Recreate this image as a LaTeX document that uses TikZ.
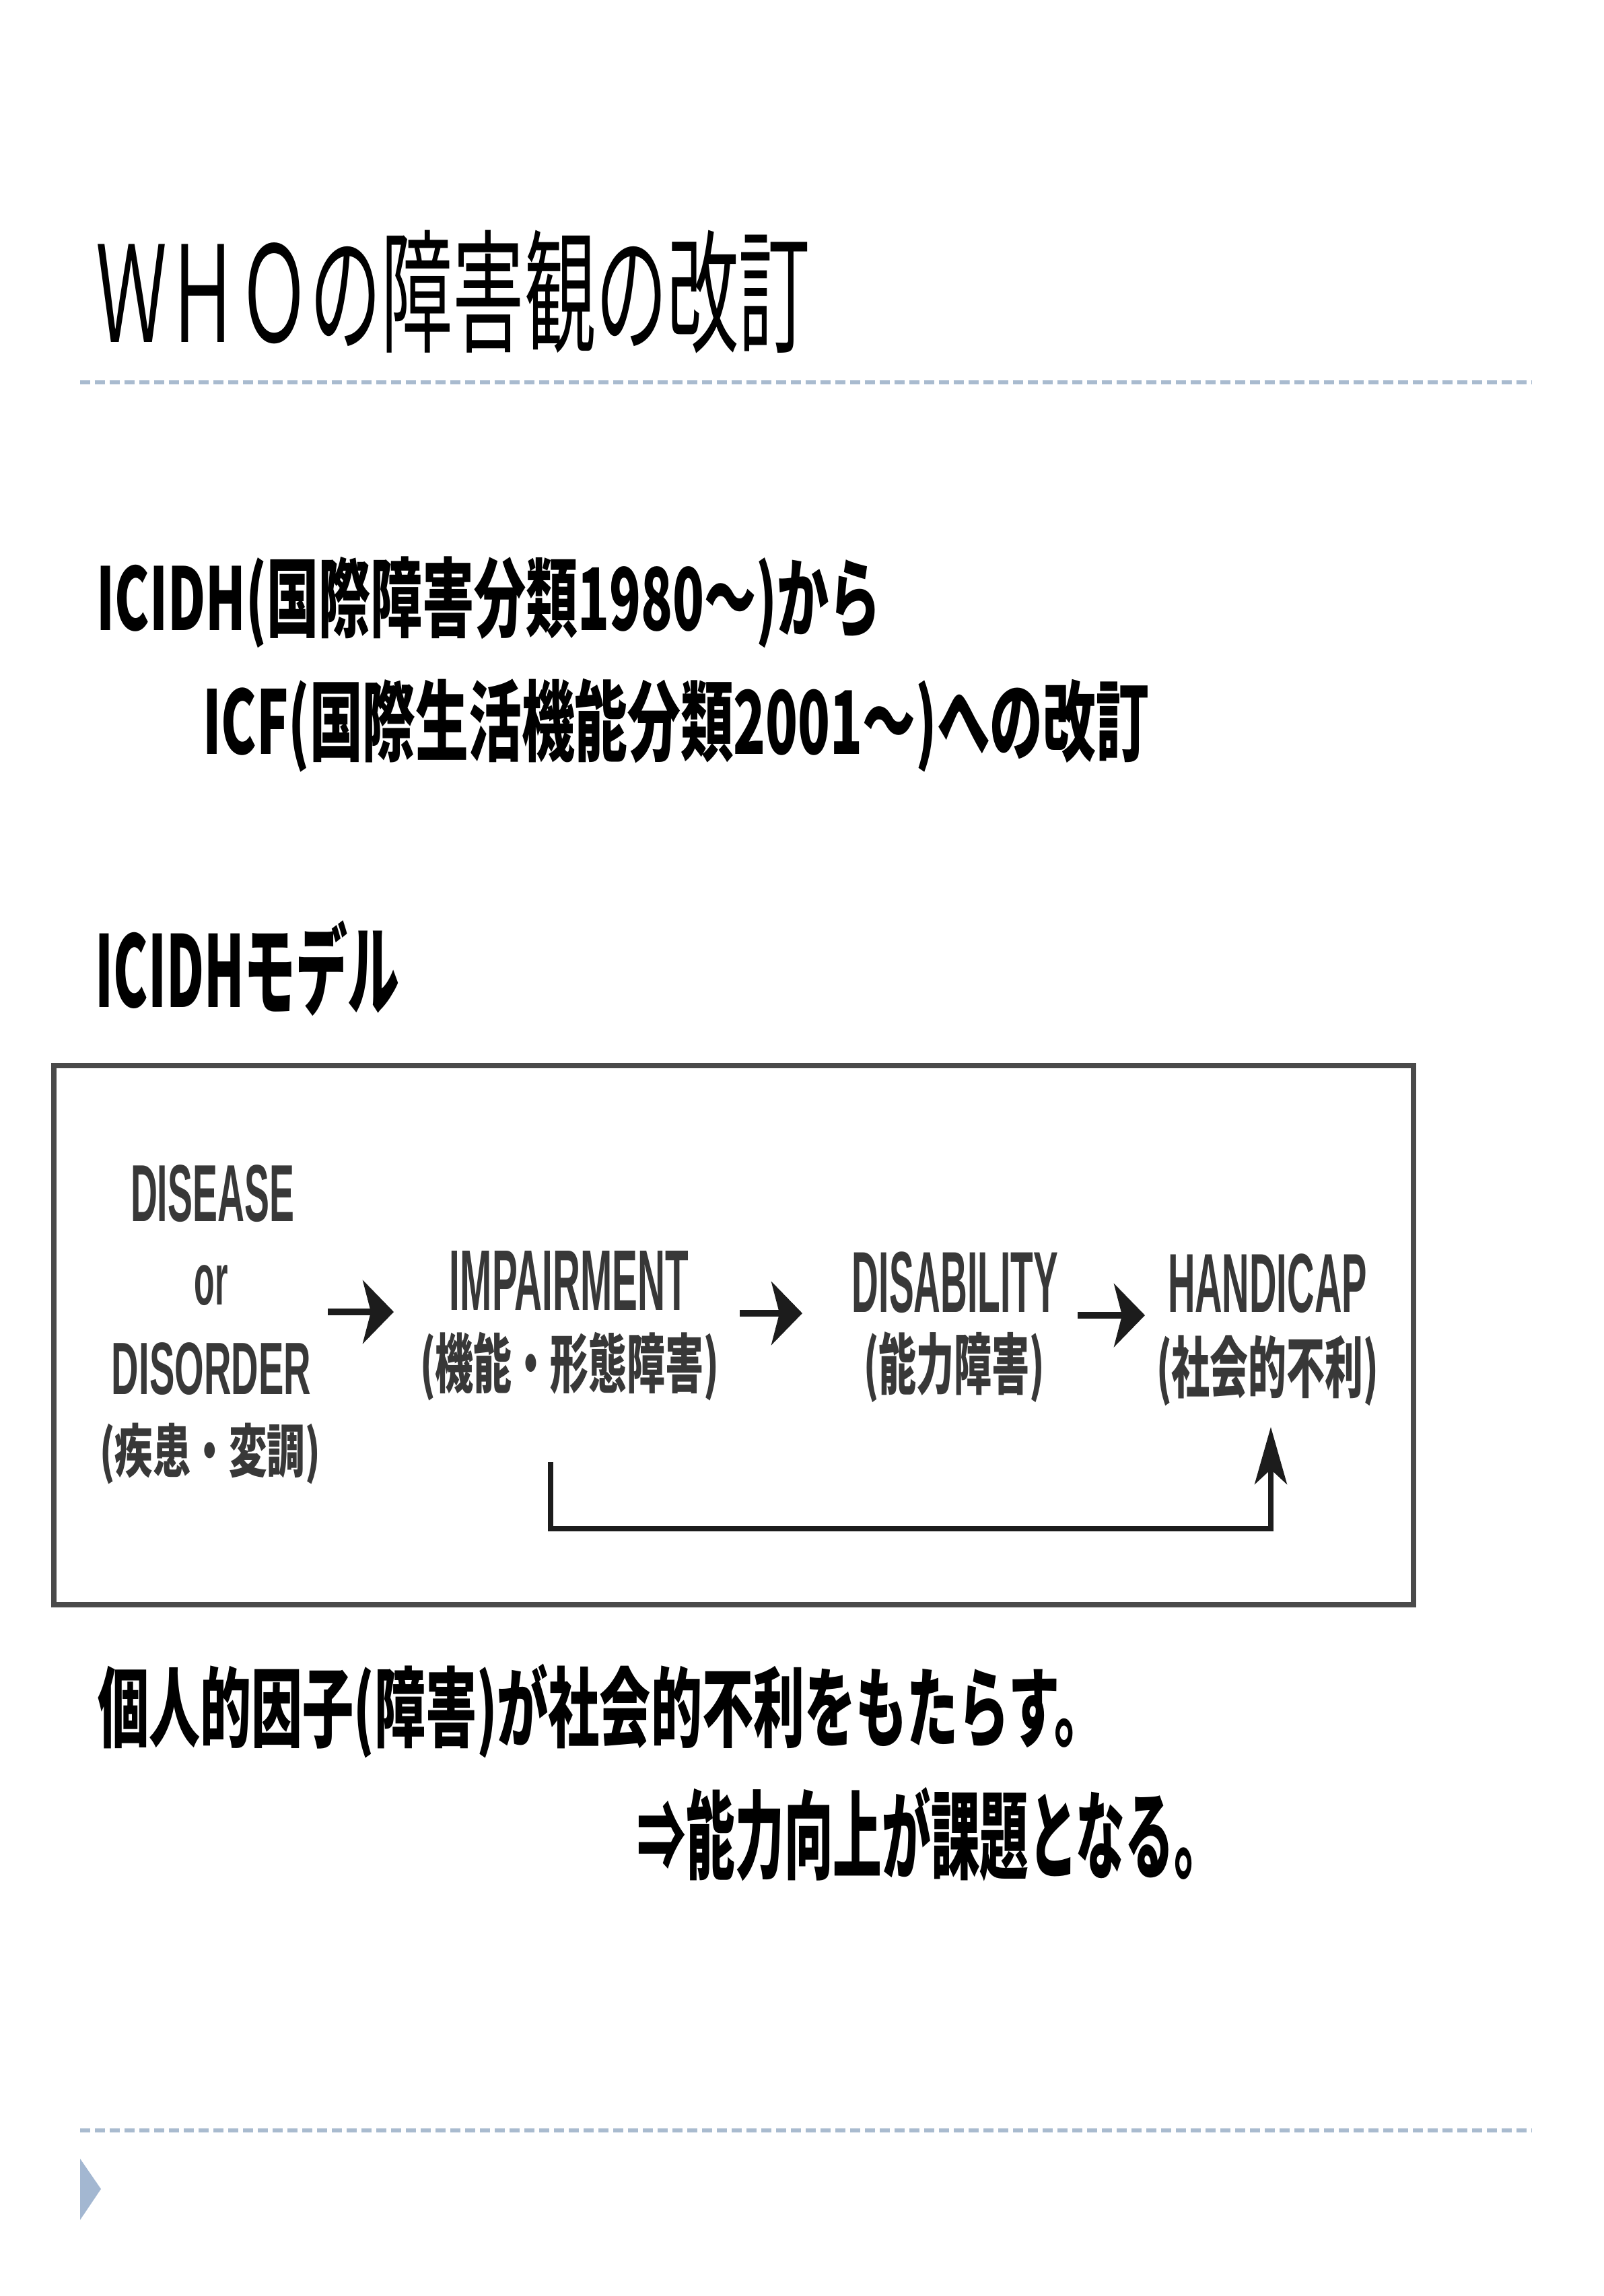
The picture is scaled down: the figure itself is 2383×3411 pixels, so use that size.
\documentclass[tikz,border=0pt]{standalone}
\usepackage{graphicx}
\usepackage{fontspec}
\usetikzlibrary{arrows.meta}
\newfontfamily\jp{Noto Sans CJK JP}
\newfontfamily\arial{Liberation Sans}
\definecolor{dotblue}{HTML}{A9BBCF}
\definecolor{tricol}{HTML}{A3B7D1}
\definecolor{diagtext}{HTML}{383838}
\definecolor{framecol}{HTML}{4A4A4A}
\definecolor{arrcol}{HTML}{1C1C1C}
\newcommand{\fitbox}[3]{\resizebox*{#1pt}{#2pt}{#3}}
\begin{document}
\begin{tikzpicture}[x=0.1pt,y=-0.1pt,
  txt/.style={anchor=north west,inner sep=0pt,outer sep=0pt},
  dtxt/.style={txt,text=diagtext},
  sep/.style={dotblue,line width=0.6pt,dash pattern=on 1.5pt off 0.7pt},
  harr/.style={arrcol,line width=1.0pt,-{Stealth[length=4.6pt,width=9.4pt,inset=1.2pt]}},
  varr/.style={arrcol,line width=0.75pt,-{Stealth[length=8.5pt,width=4.8pt,inset=2.2pt]}}]
\useasboundingbox (0,0) rectangle (2383,3411);
\fill[white] (0,0) rectangle (2383,3411);

% title and separators
\node[txt] (title) at (142,342) {\fitbox{106.2}{18.3}{\jp ＷＨＯの障害観の改訂}};
\draw[sep] (119,568) -- (2275,568);
\draw[sep] (119,3165) -- (2275,3165);
\fill[tricol] (119,3207) -- (150,3252) -- (119,3298) -- cycle;

% body text
\node[txt] (l1) at (144,827) {\fitbox{116.5}{13.6}{\jp\bfseries ICIDH(国際障害分類1980～)から}};
\node[txt] (l2) at (301,1008) {\fitbox{140.6}{13.9}{\jp\bfseries ICF(国際生活機能分類2001～)への改訂}};
\node[txt] (model) at (142,1368) {\fitbox{45.2}{14.2}{\jp\bfseries ICIDHモデル}};
\node[txt] (l3) at (145,2472) {\fitbox{149.8}{14.0}{\jp\bfseries 個人的因子(障害)が社会的不利をもたらす。}};
\node[txt] (l4) at (947,2655) {\fitbox{87.0}{14.0}{\jp\bfseries ⇒能力向上が課題となる。}};

% diagram frame
\draw[framecol,line width=0.75pt] (80,1583) rectangle (2100,2384);

% diagram labels
\node[dtxt] (disease) at (194,1731) {\fitbox{24.3}{8.5}{\arial\bfseries DISEASE}};
\node[dtxt] (or) at (289,1880) {\fitbox{5.0}{6.0}{\arial\bfseries or}};
\node[dtxt] (disorder) at (166,1995) {\fitbox{29.6}{7.8}{\arial\bfseries DISORDER}};
\node[dtxt] (disj) at (148,2114) {\fitbox{32.8}{9.1}{\jp\bfseries (疾患・変調)}};
\node[dtxt] (imp) at (668,1858) {\fitbox{35.5}{8.8}{\arial\bfseries IMPAIRMENT}};
\node[dtxt] (impj) at (624,1979) {\fitbox{44.4}{10.2}{\jp\bfseries (機能・形態障害)}};
\node[dtxt] (dis) at (1266,1860) {\fitbox{30.6}{9.1}{\arial\bfseries DISABILITY}};
\node[dtxt] (disbj) at (1283,1979) {\fitbox{26.9}{10.5}{\jp\bfseries (能力障害)}};
\node[dtxt] (hand) at (1735,1863) {\fitbox{29.6}{8.8}{\arial\bfseries HANDICAP}};
\node[dtxt] (handj) at (1718,1984) {\fitbox{33.0}{10.5}{\jp\bfseries (社会的不利)}};

% connectors
\coordinate (a1s) at (487,1949);
\coordinate (a1e) at (585,1949);
\coordinate (a2s) at (1099,1951);
\coordinate (a2e) at (1192,1951);
\coordinate (a3s) at (1601,1954);
\coordinate (a3e) at (1701,1954);
\coordinate (bs) at (818,2172);
\coordinate (bc) at (1888,2271);
\coordinate (be) at (1888,2120);
\draw[harr] (a1s) -- (a1e);
\draw[harr] (a2s) -- (a2e);
\draw[harr] (a3s) -- (a3e);
\draw[varr] (bs) |- (bc) -- (be);
\end{tikzpicture}
\end{document}
